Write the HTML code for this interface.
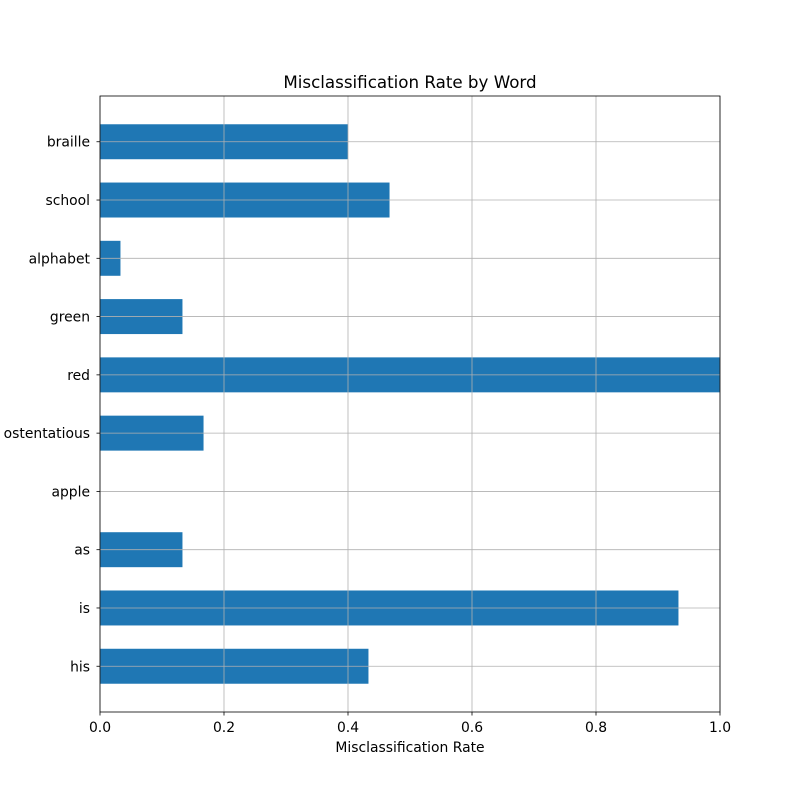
<!DOCTYPE html>
<html><head><meta charset="utf-8"><style>
body{margin:0;background:#fff;}
svg text{font-family:"DejaVu Sans","Liberation Sans",sans-serif;}
</style></head><body>
<svg id="chart" width="800" height="800" viewBox="0 0 800 800"></svg>
<script>
const categories = ["his","is","as","apple","ostentatious","red","green","alphabet","school","braille"];
const values = [0.433,0.933,0.133,0,0.167,1.0,0.133,0.033,0.467,0.4];
const xTicks = [0,0.2,0.4,0.6,0.8,1.0];
const xTickLabels = ["0.0","0.2","0.4","0.6","0.8","1.0"];

const L=100,R=720,T=96,B=712;
const yMin=-0.785,yMax=9.785;
const xs=v=>L+(v-0)/(1-0)*(R-L);
const ys=i=>B-(i-yMin)/(yMax-yMin)*(B-T);
const ns="http://www.w3.org/2000/svg";
const svg=document.getElementById('chart');
function mk(tag,attrs,parent){const e=document.createElementNS(ns,tag);for(const k in attrs)e.setAttribute(k,attrs[k]);(parent||svg).appendChild(e);return e;}
const bandH=(B-T)/(yMax-yMin);
categories.forEach((c,i)=>{
  const r=mk('rect',{x:xs(0),y:ys(i)-0.3*bandH,width:xs(values[i])-xs(0),height:0.6*bandH,fill:'#1f77b4'});
  
  
});
xTicks.forEach((t,k)=>{
  const g=mk('line',{x1:xs(t),x2:xs(t),y1:T,y2:B,stroke:'#b0b0b0','stroke-width':0.8});
  
  
  mk('line',{x1:xs(t),x2:xs(t),y1:B,y2:B+3.5,stroke:'#000','stroke-width':0.8});
  const tx=mk('text',{x:xs(t),y:B+20,'text-anchor':'middle','font-size':13.9,fill:'#000'});
  tx.textContent=xTickLabels[k];
  
  
});
categories.forEach((c,i)=>{
  const g=mk('line',{x1:L,x2:R,y1:ys(i),y2:ys(i),stroke:'#b0b0b0','stroke-width':0.8});
  
  
  mk('line',{x1:L-3.5,x2:L,y1:ys(i),y2:ys(i),stroke:'#000','stroke-width':0.8});
  const tx=mk('text',{x:L-10,y:ys(i)+5,'text-anchor':'end','font-size':13.9,fill:'#000'});
  tx.textContent=c;
  
  
});
const fr=mk('rect',{x:L,y:T,width:R-L,height:B-T,fill:'none',stroke:'#000','stroke-width':0.8});


const ti=mk('text',{x:(L+R)/2,y:88,'text-anchor':'middle','font-size':16.7,fill:'#000'});
ti.textContent='Misclassification Rate by Word';


const xl=mk('text',{x:(L+R)/2,y:752,'text-anchor':'middle','font-size':13.9,fill:'#000'});
xl.textContent='Misclassification Rate';


</script>
</body></html>
